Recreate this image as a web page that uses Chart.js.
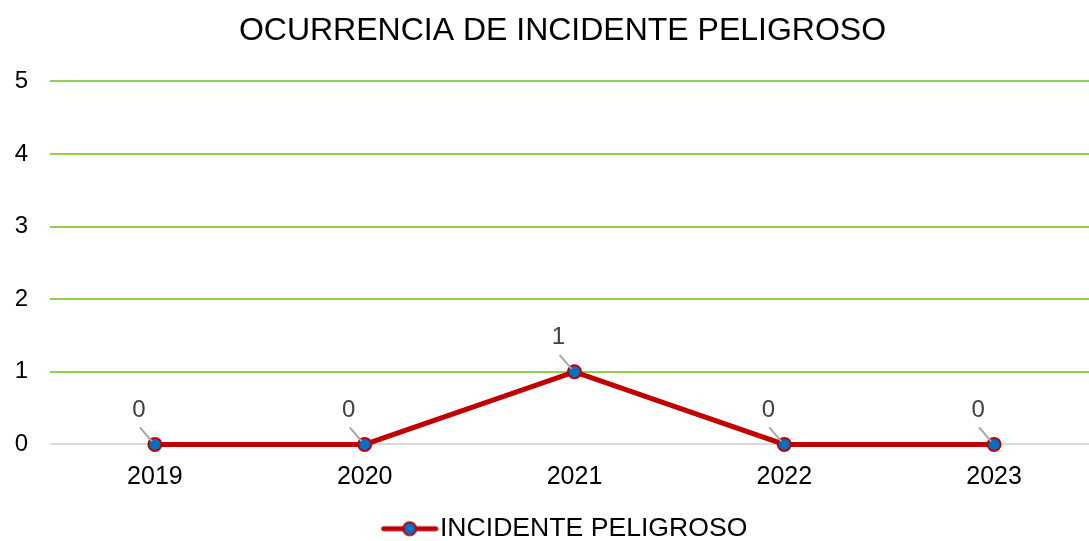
<!DOCTYPE html>
<html>
<head>
<meta charset="utf-8">
<script src="https://cdn.jsdelivr.net/npm/chart.js@4"></script>
<style>
  html, body { margin: 0; padding: 0; background: #fff; overflow: hidden; }
</style>
</head>
<body>
<canvas id="c" width="1125" height="541"></canvas>
<script>
const years = ['2019', '2020', '2021', '2022', '2023'];
const incidentes = [0, 0, 1, 0, 0];
const seriesName = 'INCIDENTE PELIGROSO';
const chartTitle = 'OCURRENCIA DE INCIDENTE PELIGROSO';
const FONT = '"Liberation Sans", Arial, sans-serif';

// Legend marker: red line segment with the blue point in the middle
// (drawn with a little empty room on its left)
function legendMarker() {
  const lead = 15;
  const c = document.createElement('canvas');
  c.width = 58 + lead; c.height = 18;
  const g = c.getContext('2d');
  g.strokeStyle = '#C00000';
  g.lineWidth = 5;
  g.lineCap = 'round';
  g.beginPath(); g.moveTo(lead + 3, 9); g.lineTo(lead + 55, 9); g.stroke();
  g.fillStyle = '#0070C0';
  g.lineWidth = 2;
  g.beginPath(); g.arc(lead + 29, 9, 6.5, 0, Math.PI * 2); g.fill(); g.stroke();
  return c;
}
const marker = legendMarker();

// Value labels set up-left of each point with a thin grey leader line
const leaderLabels = {
  id: 'leaderLabels',
  afterDatasetsDraw(chart) {
    const ctx = chart.ctx;
    const meta = chart.getDatasetMeta(0);
    ctx.save();
    meta.data.forEach((pt, i) => {
      const x = pt.x, y = pt.y;
      ctx.strokeStyle = '#a6a6a6';
      ctx.lineWidth = 2;
      ctx.beginPath();
      ctx.moveTo(x - 15, y - 17);
      ctx.lineTo(x - 3, y - 3);
      ctx.stroke();
      ctx.fillStyle = '#404040';
      ctx.font = '24px ' + FONT;
      ctx.textAlign = 'center';
      ctx.textBaseline = 'middle';
      ctx.fillText(String(incidentes[i]), x - 16, y - 34);
    });
    ctx.restore();
  }
};

new Chart(document.getElementById('c'), {
  type: 'line',
  data: {
    labels: years,
    datasets: [{
      label: seriesName,
      data: incidentes,
      borderColor: '#C00000',
      borderWidth: 5,
      backgroundColor: '#0070C0',
      pointBackgroundColor: '#0070C0',
      pointBorderColor: '#C00000',
      pointBorderWidth: 2,
      pointRadius: 6.5,
      pointHoverRadius: 6.5,
      tension: 0,
      clip: false
    }]
  },
  options: {
    responsive: false,
    animation: false,
    layout: { padding: { left: 0, right: 0, top: 0, bottom: -11 } },
    plugins: {
      title: {
        display: true,
        text: chartTitle,
        color: '#000',
        font: { family: FONT, size: 32, weight: 'normal' },
        padding: { top: 12, bottom: 31 }
      },
      legend: {
        position: 'bottom',
        labels: {
          color: '#000',
          font: { family: FONT, size: 26.6 },
          usePointStyle: true,
          pointStyleWidth: 49,
          padding: 0,
          generateLabels() {
            return [{
              text: seriesName,
              pointStyle: marker,
              fillStyle: '#0070C0',
              strokeStyle: '#C00000',
              lineWidth: 0,
              datasetIndex: 0
            }];
          }
        }
      },
      tooltip: { enabled: false }
    },
    scales: {
      x: {
        offset: true,
        grid: { display: false },
        border: { display: false },
        ticks: { color: '#000', font: { family: FONT, size: 25 }, padding: 10 },
        afterFit(scale) { scale.height = 71; }
      },
      y: {
        min: 0,
        max: 5,
        ticks: { stepSize: 1, color: '#000', font: { family: FONT, size: 24 }, padding: 22 },
        border: { display: false },
        grid: {
          drawTicks: false,
          lineWidth: 2,
          color: ctx => ctx.tick && ctx.tick.value === 0 ? '#d9d9d9' : '#92D050'
        },
        afterFit(scale) { scale.width = 50; }
      },
      // blank right-hand margin beyond the plot area
      yRight: {
        position: 'right',
        min: 0,
        max: 5,
        ticks: { display: false },
        grid: { display: false },
        border: { display: false },
        afterFit(scale) { scale.width = 26; }
      }
    }
  },
  plugins: [leaderLabels]
});
</script>
</body>
</html>
